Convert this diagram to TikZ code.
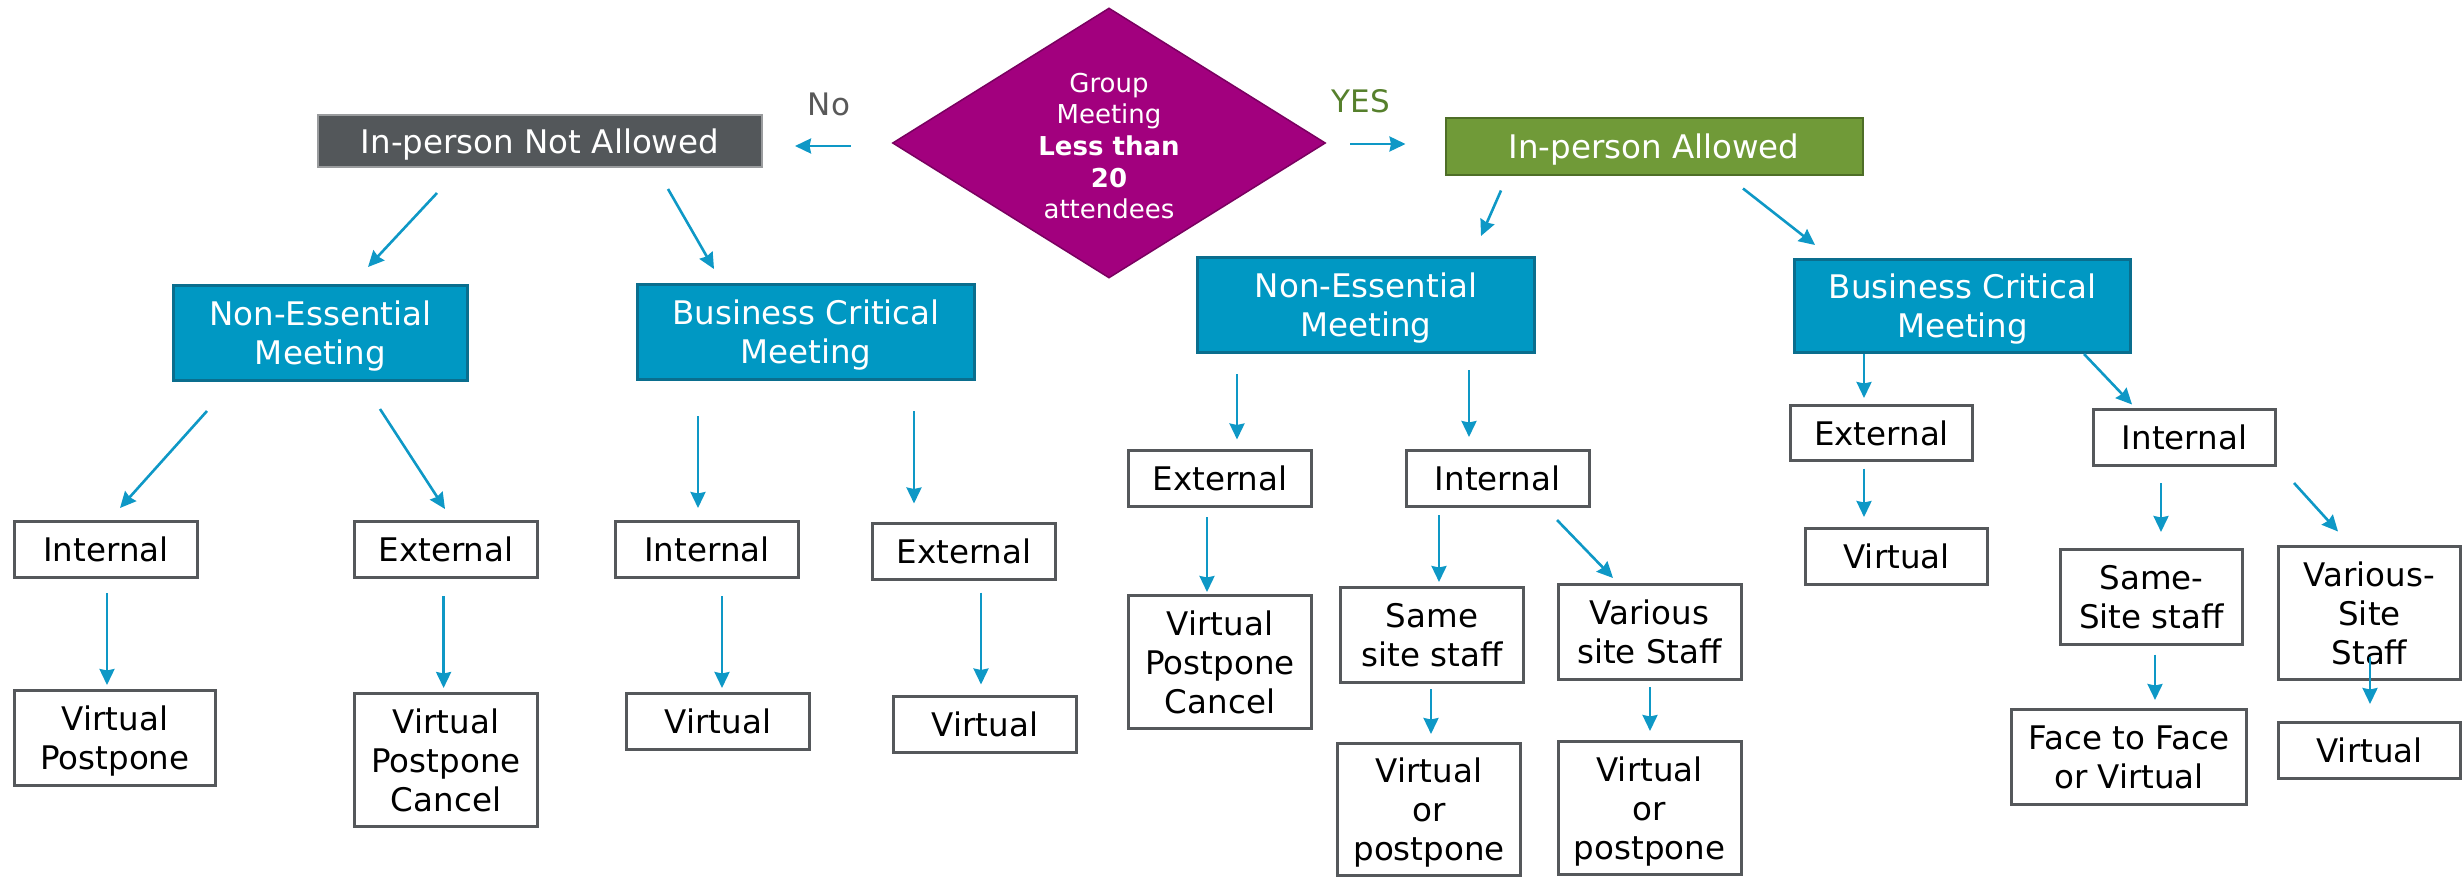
\documentclass[tikz,border=0pt]{standalone}
\usepackage{fontspec}
\setmainfont{DejaVu Sans}
\usetikzlibrary{shapes.geometric,arrows.meta,calc}
\definecolor{cblue}{HTML}{0098C3}
\definecolor{cblueline}{HTML}{0A6E8E}
\definecolor{cgrey}{HTML}{53575A}
\definecolor{cgreyline}{HTML}{9A9C9E}
\definecolor{cgreen}{HTML}{709A38}
\definecolor{cgreenline}{HTML}{4E6E27}
\definecolor{cpurple}{HTML}{A2007E}
\definecolor{cpurpleline}{HTML}{7A0060}
\definecolor{cyes}{HTML}{56802C}
\definecolor{cno}{HTML}{595959}
\definecolor{carrow}{HTML}{0E98C6}
\definecolor{cboxline}{HTML}{55585B}
\newcommand{\boxfont}{\fontsize{32.5}{39}\selectfont}
\tikzset{
  box/.style 2 args={draw=cboxline, line width=3pt, fill=white, inner sep=0pt, align=center,
    font=\boxfont, text=black, text depth=0pt, minimum width=#1, minimum height=#2},
  bluebox/.style 2 args={draw=cblueline, line width=3pt, fill=cblue, inner sep=0pt, align=center,
    font=\boxfont, text=white, text depth=0pt, minimum width=#1, minimum height=#2},
  topbox/.style n args={4}{draw=#4, line width=2pt, fill=#3, inner sep=0pt, align=center,
    font=\boxfont, text=white, text depth=0pt, minimum width=#1, minimum height=#2},
  arr/.style={draw=carrow, line width=2.6pt, -{Stealth[length=16pt,width=15pt,inset=1.5pt]}},
}
\begin{document}
\begin{tikzpicture}[x=1pt,y=-1pt]
\useasboundingbox (0,0) rectangle (2464,878);

% decision diamond
\node[diamond, draw=cpurpleline, line width=1.5pt, fill=cpurple, minimum width=433pt, minimum height=270pt, inner sep=0pt] (D) at (1109,143) {};
\node[font=\fontsize{26}{31.7}\selectfont, text=white, align=center] (Dtext) at (1109,146)
  {Group\\Meeting\\\textbf{Less than}\\\textbf{20}\\attendees};

\node[font=\fontsize{31}{36}\selectfont, text=cno] (no) at (829,104) {No};
\node[font=\fontsize{31}{36}\selectfont, text=cyes] (yes) at (1361,101) {YES};

% second level
\node[topbox={444pt}{52pt}{cgrey}{cgreyline}] (NA) at (540,141) {In-person Not Allowed};
\node[topbox={417pt}{57pt}{cgreen}{cgreenline}] (IPA) at (1654,146) {In-person Allowed};

% third level
\node[bluebox={294pt}{95pt}] (NEL) at (320.5,333) {Non-Essential\\Meeting};
\node[bluebox={337pt}{95pt}] (BCL) at (806,332) {Business Critical\\Meeting};
\node[bluebox={337pt}{95pt}] (NER) at (1366,305) {Non-Essential\\Meeting};
\node[bluebox={336pt}{93pt}] (BCR) at (1962.5,306) {Business Critical\\Meeting};

% left half
\node[box={183pt}{56pt}] (I1) at (106,549.5) {Internal};
\node[box={183pt}{56pt}] (E1) at (446,549.5) {External};
\node[box={183pt}{56pt}] (I2) at (707,549.5) {Internal};
\node[box={183pt}{56pt}] (E2) at (964,551) {External};
\node[box={201pt}{95pt}] (VP1) at (115,738) {Virtual\\Postpone};
\node[box={183pt}{133pt}] (VPC1) at (446,760) {Virtual\\Postpone\\Cancel};
\node[box={183pt}{56pt}] (V2) at (718,721.5) {Virtual};
\node[box={183pt}{56pt}] (V3) at (985,724) {Virtual};

% right half, non-essential
\node[box={183pt}{56pt}] (E3) at (1220,478.5) {External};
\node[box={183pt}{56pt}] (I3) at (1497.5,478.5) {Internal};
\node[box={183pt}{133pt}] (VPC2) at (1220,662) {Virtual\\Postpone\\Cancel};
\node[box={183pt}{95pt}] (SS) at (1432,635) {Same\\site staff};
\node[box={183pt}{95pt}] (VS) at (1649.5,632) {Various\\site Staff};
\node[box={183pt}{132pt}] (VoP1) at (1429,809.5) {Virtual\\or\\postpone};
\node[box={183pt}{133pt}] (VoP2) at (1649.5,808) {Virtual\\or\\postpone};

% right half, business critical
\node[box={182pt}{55pt}] (E4) at (1881.5,433) {External};
\node[box={182pt}{56pt}] (I4) at (2184.5,437.5) {Internal};
\node[box={182pt}{56pt}] (V4) at (1896.5,556.5) {Virtual};
\node[box={182pt}{95pt}] (SS2) at (2151.5,597) {Same-\\Site staff};
\node[box={182pt}{133pt}] (VS2) at (2369.5,613) {Various-\\Site\\Staff};
\node[box={235pt}{95pt}] (FF) at (2129,757) {Face to Face\\or Virtual};
\node[box={182pt}{56pt}] (V5) at (2369.5,750.5) {Virtual};

% connectors
\draw[arr] ([shift={(-41,3)}]D.west) -- ([shift={(32,5)}]NA.east);
\draw[arr] ([shift={(24,1)}]D.east) -- ([shift={(-39,-2)}]IPA.west);

\draw[arr] ([shift={(-103,25)}]NA.south) -- ([shift={(47.5,-17)}]NEL.north);
\draw[arr] ([shift={(128,21)}]NA.south) -- ([shift={(-92,-14)}]BCL.north);
\draw[arr] ([shift={(-153,15)}]IPA.south) -- ([shift={(115,-20)}]NER.north);
\draw[arr] ([shift={(89,13)}]IPA.south) -- ([shift={(-147.5,-13)}]BCR.north);

\draw[arr] ([shift={(-113.5,29)}]NEL.south) -- ([shift={(14,-12)}]I1.north);
\draw[arr] ([shift={(59.5,27)}]NEL.south) -- ([shift={(-1,-11)}]E1.north);
\draw[arr] ([shift={(-108,35)}]BCL.south) -- ([shift={(-9,-12)}]I2.north);
\draw[arr] ([shift={(108,30)}]BCL.south) -- ([shift={(-50,-18)}]E2.north);
\draw[arr] ([shift={(1,14)}]I1.south) -- ([shift={(-8,-4)}]VP1.north);
\draw[arr] ([shift={(-2.4,17)}]E1.south) -- ([shift={(-2.4,-4)}]VPC1.north);
\draw[arr] ([shift={(15,17)}]I2.south) -- ([shift={(4,-4)}]V2.north);
\draw[arr] ([shift={(17,12)}]E2.south) -- ([shift={(-4,-10)}]V3.north);

\draw[arr] ([shift={(-129,20)}]NER.south) -- ([shift={(17,-9.5)}]E3.north);
\draw[arr] ([shift={(103,16)}]NER.south) -- ([shift={(-28.5,-12)}]I3.north);
\draw[arr] ([shift={(-13,9)}]E3.south) -- ([shift={(-13,-2)}]VPC2.north);
\draw[arr] ([shift={(-58.5,7)}]I3.south) -- ([shift={(7,-4)}]SS.north);
\draw[arr] ([shift={(59.5,12)}]I3.south) -- ([shift={(-36.5,-5)}]VS.north);
\draw[arr] ([shift={(-1,5)}]SS.south) -- ([shift={(2,-8)}]VoP1.north);
\draw[arr] ([shift={(0.5,6)}]VS.south) -- ([shift={(0.5,-9)}]VoP2.north);

\draw[arr] ([shift={(-98.5,0)}]BCR.south) -- ([shift={(-17.5,-6)}]E4.north);
\draw[arr] ([shift={(121.5,0)}]BCR.south) -- ([shift={(-52.5,-3.5)}]I4.north);
\draw[arr] ([shift={(-17.5,6.5)}]E4.south) -- ([shift={(-32.5,-10)}]V4.north);
\draw[arr] ([shift={(-23.5,16)}]I4.south) -- ([shift={(9.5,-16)}]SS2.north);
\draw[arr] ([shift={(109.5,16)}]I4.south) -- ([shift={(-31.5,-13.5)}]VS2.north);
\draw[arr] ([shift={(3.5,8.5)}]SS2.south) -- ([shift={(26,-8)}]FF.north);
\draw[arr] ([shift={(0.5,-24.5)}]VS2.south) -- ([shift={(0.5,-17)}]V5.north);
\end{tikzpicture}
\end{document}
